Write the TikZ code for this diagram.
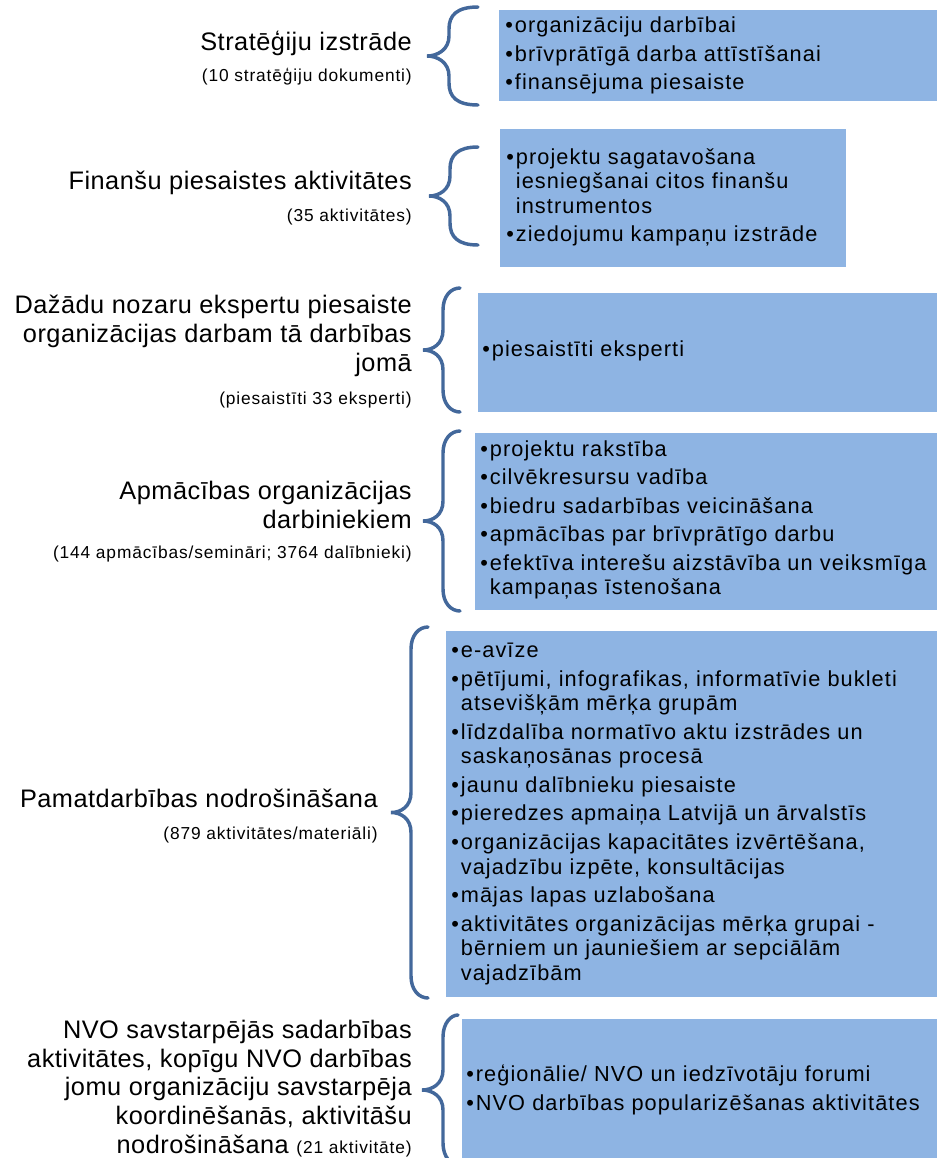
\documentclass[tikz,border=0pt]{standalone}
\usepackage{fontspec}
\setmainfont{Liberation Sans}
\newfontfamily\titfont[LetterSpace=2]{Liberation Sans}
\newfontfamily\subfont[LetterSpace=5]{Liberation Sans}
\newfontfamily\bulfont[LetterSpace=5]{Liberation Sans}
\definecolor{boxblue}{HTML}{8EB4E3}
\definecolor{braceblue}{HTML}{43689B}
\newcommand\curlyb[5]{%
  \pgfmathsetmacro\ym{(#4+#5)/2}%
  \draw[bracestroke] (#1,#4) .. controls ({#2+8},#4) and (#2,{#4+8}) .. (#2,{#4+22})
    -- (#2,{\ym-20}) .. controls (#2,{\ym-6}) and ({#3+10},\ym) .. (#3,\ym)
    .. controls ({#3+10},\ym) and (#2,{\ym+6}) .. (#2,{\ym+20})
    -- (#2,{#5-22}) .. controls (#2,{#5-8}) and ({#2+8},#5) .. (#1,#5);}
\newcommand\bu{•\kern1.5pt}
\newcommand\bp{\hphantom{•\kern1.5pt}}
\begin{document}
\begin{tikzpicture}[x=0.75pt,y=-0.75pt,
  box/.style={fill=boxblue,draw=none},
  bracestroke/.style={draw=braceblue,line width=2.6pt,line cap=round},
  bultext/.style={anchor=west,inner sep=0pt,align=left,text=black,
    font=\bulfont\fontsize{16.3}{18.4}\selectfont},
  title/.style={anchor=base east,inner sep=0pt,align=right,
    font=\titfont\fontsize{19}{21.4}\selectfont},
  subtitle/.style={anchor=base east,inner sep=0pt,
    font=\subfont\fontsize{13}{15}\selectfont}]
\useasboundingbox (0,0) rectangle (937,1158);
\begin{scope}
\clip (0,0) rectangle (937,1158);
% boxes
\fill[box] (499,10) rectangle (937,101);
\fill[box] (500,129) rectangle (846,267);
\fill[box] (478,293) rectangle (937,412);
\fill[box] (475,433) rectangle (937,610);
\fill[box] (446,631) rectangle (937,997);
\fill[box] (462,1019) rectangle (937,1170);
% braces
\curlyb{478}{449}{427}{7}{105}
\curlyb{478}{450}{429}{147}{245}
\curlyb{460}{443}{423}{288}{412}
\curlyb{460}{443}{423}{431}{611}
\curlyb{428}{411}{391}{627}{998}
\curlyb{458}{443}{422}{1015}{1165}
\end{scope}
% bullet texts
\node[bultext] (b1) at (505,55.5) {\bu organizāciju darbībai\\[3pt]\bu brīvprātīgā darba attīstīšanai\\[3pt]\bu finansējuma piesaiste};
\node[bultext] (b2) at (506,197.5) {\bu projektu sagatavošana\\\bp iesniegšanai citos finanšu\\\bp instrumentos\\[3pt]\bu ziedojumu kampaņu izstrāde};
\node[bultext] (b3) at (482,351) {\bu piesaistīti eksperti};
\node[bultext] (b4) at (480,520) {\bu projektu rakstība\\[3pt]\bu cilvēkresursu vadība\\[3pt]\bu biedru sadarbības veicināšana\\[3pt]\bu apmācības par brīvprātīgo darbu\\[3pt]\bu efektīva interešu aizstāvība un veiksmīga\\\bp kampaņas īstenošana};
\node[bultext] (b5) at (451,814) {\bu e-avīze\\[3pt]\bu pētījumi, infografikas, informatīvie bukleti\\\bp atsevišķām mērķa grupām\\[3pt]\bu līdzdalība normatīvo aktu izstrādes un\\\bp saskaņosānas procesā\\[3pt]\bu jaunu dalībnieku piesaiste\\[3pt]\bu pieredzes apmaiņa Latvijā un ārvalstīs\\[3pt]\bu organizācijas kapacitātes izvērtēšana,\\\bp vajadzību izpēte, konsultācijas\\[3pt]\bu mājas lapas uzlabošana\\[3pt]\bu aktivitātes organizācijas mērķa grupai -\\\bp bērniem un jauniešiem ar sepciālām\\\bp vajadzībām};
\node[bultext] (b6) at (466,1090) {\bu reģionālie/ NVO un iedzīvotāju forumi\\[3pt]\bu NVO darbības popularizēšanas aktivitātes};
% titles
\node[title] (t1) at (412,50) {Stratēģiju izstrāde};
\node[subtitle] (s1) at (412,81) {(10 stratēģiju dokumenti)};
\node[title] (t2) at (412,189) {Finanšu piesaistes aktivitātes};
\node[subtitle] (s2) at (412,221) {(35 aktivitātes)};
\node[title] (t3) at (412,371) {Dažādu nozaru ekspertu piesaiste\\organizācijas darbam tā darbības\\jomā};
\node[subtitle] (s3) at (412,404) {(piesaistīti 33 eksperti)};
\node[title] (t4) at (412,528) {Apmācības organizācijas\\darbiniekiem};
\node[subtitle] (s4) at (412,558) {(144 apmācības/semināri; 3764 dalībnieki)};
\node[title] (t5) at (378,807) {Pamatdarbības nodrošināšana};
\node[subtitle] (s5) at (378,839) {(879 aktivitātes/materiāli)};
\node[title] (t6) at (412,1153) {NVO savstarpējās sadarbības\\aktivitātes, kopīgu NVO darbības\\jomu organizāciju savstarpēja\\koordinēšanās, aktivitāšu\\nodrošināšana {\subfont\fontsize{13}{15}\selectfont(21 aktivitāte)}};
\end{tikzpicture}
\end{document}
